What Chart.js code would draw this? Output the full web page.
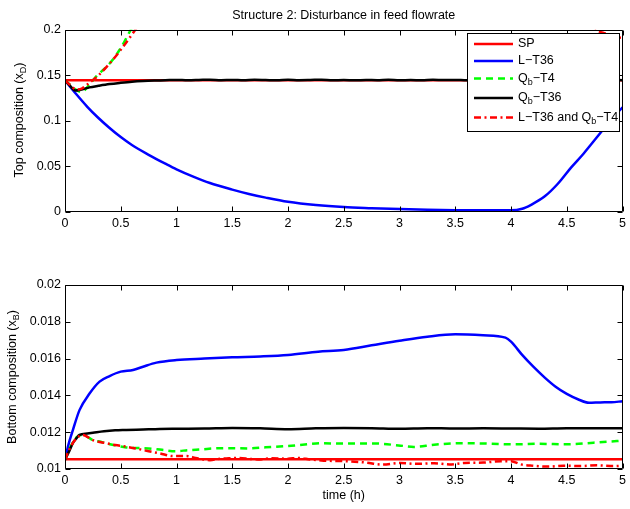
<!DOCTYPE html>
<html>
<head>
<meta charset="utf-8">
<script src="https://cdn.jsdelivr.net/npm/chart.js@4.4.1/dist/chart.umd.min.js"></script>
<style>
  html, body { margin: 0; padding: 0; background: #fff; }
  #wrap { position: relative; width: 630px; height: 509px; background: #fff; overflow: hidden; }
  canvas { position: absolute; left: 0; }
  #c1 { top: 0; }
  #c2 { top: 255px; }
</style>
</head>
<body>
<div id="wrap">
  <canvas id="c1" width="630" height="232"></canvas>
  <canvas id="c2" width="630" height="254"></canvas>
</div>
<script>
// ---------------- DATA ----------------
const chartTitle = 'Structure 2: Disturbance in feed flowrate';
const xAxisTitle = 'time (h)';
const seriesNames = ['SP', 'L−T36', 'Qb−T4', 'Qb−T36', 'L−T36 and Qb−T4'];

const xTickValues = [0, 0.5, 1, 1.5, 2, 2.5, 3, 3.5, 4, 4.5, 5];
const xTickLabels = ['0', '0.5', '1', '1.5', '2', '2.5', '3', '3.5', '4', '4.5', '5'];
const yTopTickValues = [0, 0.05, 0.1, 0.15, 0.2];
const yTopTickLabels = ['0', '0.05', '0.1', '0.15', '0.2'];
const yBotTickValues = [0.01, 0.012, 0.014, 0.016, 0.018, 0.02];
const yBotTickLabels = ['0.01', '0.012', '0.014', '0.016', '0.018', '0.02'];

// Top plot: top composition xD
const topSP_t = [0, 5];
const topSP_v = [0.1445, 0.1445];

const topL36_t = [0, 0.1, 0.2, 0.3, 0.4, 0.5, 0.6, 0.75, 0.9, 1.0, 1.15, 1.3, 1.5, 1.65, 1.8, 2.0, 2.25, 2.5, 2.75, 3.0, 3.25, 3.5, 3.75, 4.0, 4.1, 4.18, 4.3, 4.42, 4.54, 4.65, 4.77, 4.89, 5.0];
const topL36_v = [0.1445, 0.1295, 0.1155, 0.1032, 0.0922, 0.0822, 0.0735, 0.0628, 0.0530, 0.0468, 0.0388, 0.0318, 0.0246, 0.0198, 0.0158, 0.0112, 0.0076, 0.0054, 0.0042, 0.0032, 0.0025, 0.0020, 0.0018, 0.0018, 0.0035, 0.0079, 0.0169, 0.031, 0.049, 0.064, 0.082, 0.100, 0.115];

const topQbT4_t = [0, 0.05, 0.1, 0.15, 0.2, 0.28, 0.4, 0.5, 0.59, 0.7, 0.8];
const topQbT4_v = [0.1445, 0.139, 0.134, 0.1318, 0.137, 0.1488, 0.163, 0.180, 0.200, 0.222, 0.243];

const topQbT36_t = [0, 0.05, 0.09, 0.15, 0.22, 0.3, 0.4, 0.5, 0.6, 0.7, 0.8,
  0.9, 1.0, 1.1, 1.2, 1.3, 1.4, 1.5, 1.6, 1.7, 1.8, 1.9, 2.0, 2.1, 2.2, 2.3, 2.4, 2.5, 2.6, 2.7, 2.8, 2.9,
  3.0, 3.1, 3.2, 3.3, 3.4, 3.5, 3.6, 3.7, 3.8, 3.9, 4.0, 4.1, 4.2, 4.3, 4.4, 4.5, 4.6, 4.7, 4.8, 4.9, 5.0];
const topQbT36_v = [0.1445, 0.138, 0.1333, 0.1345, 0.1368, 0.1385, 0.1404, 0.1418, 0.1430, 0.1438, 0.1443,
  0.1446, 0.1450, 0.1446, 0.1449, 0.1453, 0.1447, 0.1450, 0.1446, 0.1451, 0.1448, 0.1445, 0.1451, 0.1447, 0.1449, 0.1452, 0.1446, 0.1449, 0.1445, 0.1450, 0.1447, 0.1452,
  0.1446, 0.1449, 0.1446, 0.1451, 0.1448, 0.1450, 0.1446, 0.1452, 0.1447, 0.1449, 0.1445, 0.1450, 0.1447, 0.1451, 0.1446, 0.1449, 0.1447, 0.1450, 0.1446, 0.1449, 0.1447];

const topBoth_t = [0, 0.05, 0.1, 0.15, 0.2, 0.3, 0.4, 0.5, 0.63, 0.75, 1.0, 4.7, 4.77, 4.85, 4.95, 5.0];
const topBoth_v = [0.1445, 0.139, 0.1345, 0.1355, 0.140, 0.150, 0.163, 0.178, 0.200, 0.222, null, 0.212, 0.200, 0.196, 0.192, 0.191];

// Bottom plot: bottom composition xB
const botSP_t = [0, 5];
const botSP_v = [0.01053, 0.01053];

const botL36_t = [0, 0.03, 0.07, 0.13, 0.22, 0.31, 0.4, 0.5, 0.61, 0.7, 0.82, 1.0, 1.25, 1.5, 1.75, 2.0, 2.27, 2.5, 2.75, 3.0, 3.25, 3.5, 3.75, 3.95, 4.0, 4.1, 4.2, 4.3, 4.4, 4.5, 4.6, 4.7, 4.8, 4.9, 5.0];
const botL36_v = [0.0105, 0.0113, 0.0121, 0.0132, 0.0141, 0.01475, 0.01505, 0.01529, 0.01538, 0.01556, 0.01578, 0.01592, 0.0160, 0.01607, 0.01612, 0.0162, 0.01637, 0.01647, 0.01672, 0.01697, 0.01719, 0.01732, 0.01727, 0.01714, 0.01692, 0.0162, 0.01556, 0.01498, 0.01447, 0.01408, 0.01379, 0.0136, 0.01362, 0.01363, 0.01368];

const botQbT4_t = [0, 0.05, 0.1, 0.15, 0.2, 0.25, 0.32, 0.39, 0.47, 0.55, 0.65, 0.75, 0.87, 0.99, 1.1, 1.23, 1.35, 1.5, 1.65, 1.8, 2.0, 2.15, 2.3, 2.5, 2.77, 3.01, 3.13, 3.31, 3.55, 3.79, 4.03, 4.26, 4.5, 4.74, 4.95, 5.0];
const botQbT4_v = [0.0105, 0.0112, 0.0117, 0.01185, 0.01175, 0.01157, 0.01148, 0.01136, 0.01125, 0.01117, 0.01114, 0.01112, 0.01104, 0.01097, 0.01102, 0.01107, 0.01112, 0.01113, 0.01112, 0.01118, 0.01125, 0.01133, 0.0114, 0.01138, 0.01139, 0.01127, 0.0112, 0.01132, 0.0114, 0.01138, 0.01134, 0.01137, 0.01134, 0.01143, 0.01152, 0.01155];

const botQbT36_t = [0, 0.04, 0.07, 0.1, 0.13, 0.2, 0.25, 0.35, 0.45, 0.55, 0.7, 0.85, 1.0, 1.25, 1.5, 1.75, 2.0, 2.25, 2.5, 2.75, 3.0, 3.25, 3.5, 3.75, 4.0, 4.25, 4.5, 4.75, 5.0];
const botQbT36_v = [0.0105, 0.0110, 0.0114, 0.01165, 0.01185, 0.01193, 0.01197, 0.01205, 0.0121, 0.01212, 0.01215, 0.01218, 0.01219, 0.0122, 0.01223, 0.01221, 0.01216, 0.01221, 0.01223, 0.01222, 0.01219, 0.01222, 0.0122, 0.01221, 0.0122, 0.01219, 0.01222, 0.01221, 0.01221];

const botBoth_t = [0, 0.05, 0.1, 0.16, 0.25, 0.37, 0.45, 0.55, 0.65, 0.73, 0.85, 0.97, 1.09, 1.17, 1.23, 1.3, 1.38, 1.47, 1.56, 1.66, 1.75, 1.85, 2.0, 2.09, 2.2, 2.3, 2.54, 2.7, 2.84, 3.01, 3.15, 3.31, 3.45, 3.58, 3.75, 3.91, 4.0, 4.09, 4.2, 4.33, 4.47, 4.62, 4.77, 4.92, 5.0];
const botBoth_v = [0.0105, 0.0112, 0.01165, 0.01185, 0.01157, 0.0114, 0.0113, 0.01121, 0.0111, 0.01099, 0.01085, 0.0107, 0.0107, 0.0106, 0.01053, 0.01048, 0.01055, 0.01058, 0.0106, 0.01055, 0.01052, 0.01058, 0.01056, 0.0106, 0.01052, 0.01046, 0.01042, 0.01035, 0.01024, 0.01033, 0.01028, 0.01031, 0.01025, 0.01033, 0.01035, 0.01042, 0.01042, 0.01025, 0.01018, 0.01013, 0.01018, 0.01016, 0.0102, 0.01016, 0.01018];

// ---------------- STYLE ----------------
const FONT = '"Liberation Sans", Arial, Helvetica, sans-serif';
const FS = 12.5;
const styles = [
  { color: '#ff0000', dash: [] },
  { color: '#0000ff', dash: [] },
  { color: '#00ff00', dash: [7, 5] },
  { color: '#000000', dash: [] },
  { color: '#ff0000', dash: [7, 3.5, 2, 3.5] }
];
Chart.defaults.color = '#000';
Chart.defaults.font.family = FONT;
Chart.defaults.font.size = FS;

function pts(t, v) { return t.map((x, i) => ({ x: x, y: v[i] })); }

function makeDatasets(list) {
  return list.map((p, i) => ({
    label: seriesNames[i],
    data: pts(p[0], p[1]),
    borderColor: styles[i].color,
    borderDash: styles[i].dash,
    borderWidth: 2.5,
    pointRadius: 0,
    fill: false,
    cubicInterpolationMode: 'monotone',
    spanGaps: false,
    order: 10 - i
  }));
}

function drawRich(ctx, parts, x, y, size, align) {
  const main = size + 'px ' + FONT;
  const sub = (size * 0.72) + 'px ' + FONT;
  let w = 0;
  parts.forEach(p => { ctx.font = p[1] ? sub : main; w += ctx.measureText(p[0]).width; });
  let cx = align === 'center' ? x - w / 2 : x;
  ctx.textBaseline = 'middle';
  ctx.textAlign = 'left';
  parts.forEach(p => {
    ctx.font = p[1] ? sub : main;
    ctx.fillText(p[0], cx, p[1] ? y + size * 0.32 : y);
    cx += ctx.measureText(p[0]).width;
  });
}

// axes frame with inward ticks on all four sides
const framePlugin = {
  id: 'frame',
  afterDatasetsDraw(chart) {
    const { ctx, chartArea: a, scales } = chart;
    const L = Math.round(a.left) + 0.5, R = Math.round(a.right) - 0.5;
    const T = Math.round(a.top) + 0.5, B = Math.round(a.bottom) - 0.5;
    ctx.save();
    ctx.strokeStyle = '#000';
    ctx.lineWidth = 1;
    ctx.setLineDash([]);
    ctx.beginPath();
    ctx.rect(L, T, R - L, B - T);
    const tl = 5;
    scales.x.ticks.forEach(tk => {
      const px = Math.round(scales.x.getPixelForValue(tk.value)) + 0.5;
      ctx.moveTo(px, B); ctx.lineTo(px, B - tl);
      ctx.moveTo(px, T); ctx.lineTo(px, T + tl);
    });
    scales.y.ticks.forEach(tk => {
      const py = Math.round(scales.y.getPixelForValue(tk.value)) + 0.5;
      ctx.moveTo(L, py); ctx.lineTo(L + tl, py);
      ctx.moveTo(R, py); ctx.lineTo(R - tl, py);
    });
    ctx.stroke();
    ctx.restore();
  }
};

const yTitlePlugin = {
  id: 'yTitle',
  afterDraw(chart, args, opts) {
    const ctx = chart.ctx;
    ctx.save();
    ctx.fillStyle = '#000';
    ctx.translate(opts.x, opts.y);
    ctx.rotate(-Math.PI / 2);
    drawRich(ctx, opts.parts, 0, 0, FS, 'center');
    ctx.restore();
  }
};

const legendEntries = [
  [['SP']],
  [['L−T36']],
  [['Q'], ['b', 1], ['−T4']],
  [['Q'], ['b', 1], ['−T36']],
  [['L−T36 and Q'], ['b', 1], ['−T4']]
];
const legendPlugin = {
  id: 'mlLegend',
  afterDraw(chart) {
    const ctx = chart.ctx;
    const bx = 467.5, by = 33.5, bw = 152, bh = 98;
    const rows = [44, 61, 78.5, 98, 117.5];
    ctx.save();
    ctx.fillStyle = '#fff';
    ctx.fillRect(bx, by, bw, bh);
    ctx.strokeStyle = '#000';
    ctx.lineWidth = 1;
    ctx.strokeRect(bx, by, bw, bh);
    legendEntries.forEach((parts, i) => {
      const y = rows[i];
      ctx.strokeStyle = styles[i].color;
      ctx.lineWidth = 2.5;
      ctx.setLineDash(styles[i].dash);
      ctx.beginPath();
      ctx.moveTo(474, y); ctx.lineTo(513, y);
      ctx.stroke();
      ctx.setLineDash([]);
      ctx.fillStyle = '#000';
      drawRich(ctx, parts, 518, y, FS, 'left');
    });
    ctx.restore();
  }
};

function tickCb(values, labels) {
  return function (v) {
    const i = values.findIndex(u => Math.abs(u - v) < 1e-9);
    return i >= 0 ? labels[i] : '';
  };
}

function baseScales(yMin, yMax, yVals, yLabs, xHeight, xTitle) {
  return {
    x: {
      type: 'linear', min: 0, max: 5,
      afterBuildTicks: s => { s.ticks = xTickValues.map(v => ({ value: v })); },
      afterFit: s => { s.height = xHeight; },
      grid: { display: false, drawTicks: false },
      border: { display: false },
      ticks: { padding: 4, maxRotation: 0, autoSkip: false, callback: tickCb(xTickValues, xTickLabels), font: { size: FS } },
      title: xTitle ? { display: true, text: xTitle, font: { size: FS }, padding: { top: 0, bottom: 6.4 } } : { display: false }
    },
    y: {
      type: 'linear', min: yMin, max: yMax,
      afterBuildTicks: s => { s.ticks = yVals.map(v => ({ value: v })); },
      afterFit: s => { s.width = 65; },
      grid: { display: false, drawTicks: false },
      border: { display: false },
      ticks: { padding: 4, autoSkip: false, callback: tickCb(yVals, yLabs), font: { size: FS } }
    }
  };
}

new Chart(document.getElementById('c1'), {
  type: 'line',
  data: {
    datasets: makeDatasets([
      [topSP_t, topSP_v], [topL36_t, topL36_v], [topQbT4_t, topQbT4_v],
      [topQbT36_t, topQbT36_v], [topBoth_t, topBoth_v]
    ])
  },
  options: {
    responsive: false, animation: false, devicePixelRatio: 1,
    layout: { padding: { left: 0, right: 4, top: 0, bottom: 0 } },
    plugins: {
      legend: { display: false },
      tooltip: { enabled: false },
      title: { display: true, text: chartTitle, fullSize: false, font: { size: FS, weight: 'normal' }, color: '#000', padding: { top: 8.4, bottom: 6.4 } },
      yTitle: { x: 20, y: 120, parts: [['Top composition (x'], ['D', 1], [')']] }
    },
    scales: baseScales(0, 0.2, yTopTickValues, yTopTickLabels, 20, null)
  },
  plugins: [framePlugin, yTitlePlugin, legendPlugin]
});

new Chart(document.getElementById('c2'), {
  type: 'line',
  data: {
    datasets: makeDatasets([
      [botSP_t, botSP_v], [botL36_t, botL36_v], [botQbT4_t, botQbT4_v],
      [botQbT36_t, botQbT36_v], [botBoth_t, botBoth_v]
    ])
  },
  options: {
    responsive: false, animation: false, devicePixelRatio: 1,
    layout: { padding: { left: 0, right: 4, top: 30, bottom: 0 } },
    plugins: {
      legend: { display: false },
      tooltip: { enabled: false },
      yTitle: { x: 12.5, y: 122, parts: [['Bottom composition (x'], ['B', 1], [')']] }
    },
    scales: baseScales(0.01, 0.02, yBotTickValues, yBotTickLabels, 40, xAxisTitle)
  },
  plugins: [framePlugin, yTitlePlugin]
});
</script>
</body>
</html>
